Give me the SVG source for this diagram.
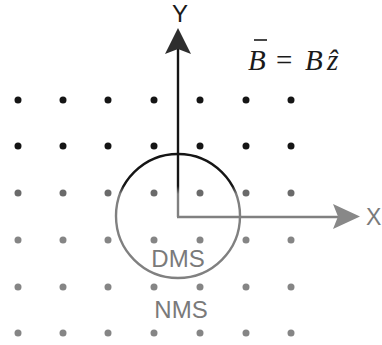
<svg xmlns="http://www.w3.org/2000/svg" width="382" height="345" viewBox="0 0 382 345">
<defs>
<linearGradient id="fade" gradientUnits="userSpaceOnUse" x1="0" y1="186" x2="0" y2="194">
<stop offset="0" stop-color="#151515"/>
<stop offset="1" stop-color="#808080"/>
</linearGradient>
<style>
.dk{fill:#151515}
.lt{fill:#858585}
.mid{fill:#6a6a6a}
.lbl{font-family:"Liberation Sans",Arial,sans-serif;font-size:24px;fill:#7a7a7a;text-anchor:middle}
.eq{font-family:"Liberation Serif","Times New Roman",serif;font-style:italic;font-size:29px;fill:#1a1a1a}
.eqn{font-family:"Liberation Serif","Times New Roman",serif;font-style:normal;font-size:29px;fill:#1a1a1a}
</style>
</defs>
<rect width="382" height="345" fill="#ffffff"/>
<g id="field">
<g class="dk">
<circle cx="18" cy="100" r="3.5"/><circle cx="63" cy="100" r="3.5"/><circle cx="108" cy="100" r="3.5"/><circle cx="154" cy="100" r="3.5"/><circle cx="200" cy="100" r="3.5"/><circle cx="246" cy="100" r="3.5"/><circle cx="291" cy="100" r="3.5"/>
<circle cx="18" cy="146" r="3.5"/><circle cx="63" cy="146" r="3.5"/><circle cx="108" cy="146" r="3.5"/><circle cx="154" cy="146" r="3.5"/><circle cx="200" cy="146" r="3.5"/><circle cx="246" cy="146" r="3.5"/><circle cx="291" cy="146" r="3.5"/>
</g>
<g class="mid">
<circle cx="18" cy="193" r="3.5"/><circle cx="63" cy="193" r="3.5"/><circle cx="108" cy="193" r="3.5"/><circle cx="154" cy="193" r="3.5"/><circle cx="200" cy="193" r="3.5"/><circle cx="246" cy="193" r="3.5"/><circle cx="291" cy="193" r="3.5"/>
</g>
<g class="lt">
<circle cx="18" cy="240" r="3.5"/><circle cx="63" cy="240" r="3.5"/><circle cx="108" cy="240" r="3.5"/><circle cx="154" cy="240" r="3.5"/><circle cx="200" cy="240" r="3.5"/><circle cx="246" cy="240" r="3.5"/><circle cx="291" cy="240" r="3.5"/>
<circle cx="18" cy="287" r="3.5"/><circle cx="63" cy="287" r="3.5"/><circle cx="108" cy="287" r="3.5"/><circle cx="154" cy="287" r="3.5"/><circle cx="200" cy="287" r="3.5"/><circle cx="246" cy="287" r="3.5"/><circle cx="291" cy="287" r="3.5"/>
<circle cx="18" cy="333" r="3.5"/><circle cx="63" cy="333" r="3.5"/><circle cx="108" cy="333" r="3.5"/><circle cx="154" cy="333" r="3.5"/><circle cx="200" cy="333" r="3.5"/><circle cx="246" cy="333" r="3.5"/><circle cx="291" cy="333" r="3.5"/>
</g>
</g>
<g id="dms">
<circle cx="178" cy="216" r="62" fill="none" stroke="url(#fade)" stroke-width="2.4"/>
<text class="lbl" x="178" y="267">DMS</text>
</g>
<g id="nms">
<text class="lbl" x="181" y="318">NMS</text>
</g>
<g id="connectors">
<line x1="178" y1="217" x2="178" y2="48" stroke="url(#fade)" stroke-width="2.4"/>
<polygon points="178,28 191,54 178,49 165,54" fill="#2e2e2e"/>
<line x1="177" y1="217" x2="340" y2="217" stroke="#808080" stroke-width="2.4"/>
<polygon points="360,216.5 333,229 338,216.5 333,204" fill="#888888"/>
</g>
<g id="axis-labels">
<text x="180" y="22" font-family="'Liberation Sans',Arial,sans-serif" font-size="24" fill="#1a1a1a" text-anchor="middle">Y</text>
<text x="366" y="225" font-family="'Liberation Sans',Arial,sans-serif" font-size="23" fill="#7a7a7a">X</text>
</g>
<g id="equation">
<text class="eq" x="248" y="70">B</text>
<line x1="254" y1="40" x2="267" y2="40" stroke="#1a1a1a" stroke-width="1.6"/>
<text class="eqn" x="276" y="70">=</text>
<text class="eq" x="305" y="70">B</text>
<text class="eq" x="327" y="70">ẑ</text>
</g>
</svg>
